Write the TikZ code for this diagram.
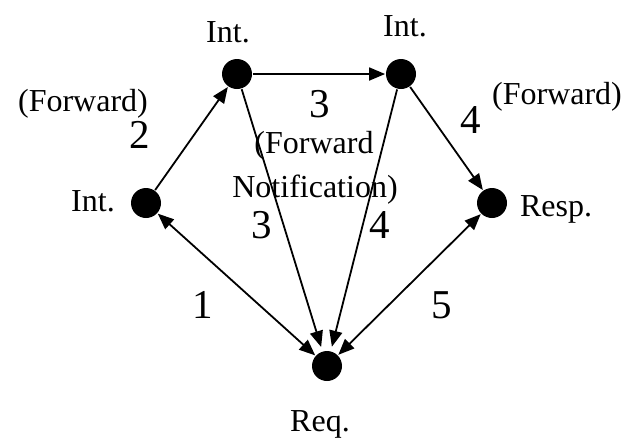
\documentclass[tikz,border=0pt]{standalone}
\usepackage{fontspec}
\setmainfont{Liberation Serif}
\usetikzlibrary{arrows.meta}

\begin{document}
\begin{tikzpicture}[x=0.5pt, y=-0.5pt, line width=0.9pt,
                    >={Triangle[length=8pt, width=6.5pt]},
                    dot/.style={circle, fill, inner sep=0pt, minimum size=15pt},
                    txt/.style={anchor=base, inner sep=0pt, font=\fontsize{16}{18}\selectfont},
                    num/.style={anchor=base, inner sep=0pt, font=\fontsize{20.5}{22}\selectfont}]
  \useasboundingbox (0,0) rectangle (638,441);

  % Peers (y grows downwards)
  \node[dot] (a) at (146, 203) {};
  \node[dot] (b) at (237, 74) {};
  \node[dot] (c) at (401, 74) {};
  \node[dot] (r) at (492, 203) {};
  \node[dot] (q) at (327, 366) {};

  % Messages
  \draw[<->] (a) -- (q);
  \draw[->] (a) -- (b);
  \draw[->] (b) -- (c);
  \draw[->] (c) -- (r);
  \draw[->, shorten >=2pt] (b) -- (q);
  \draw[->, shorten >=2pt] (c) -- (q);
  \draw[<->] (r) -- (q);

  % Peer labels
  \node[txt] (la) at (93, 211)  {Int.};
  \node[txt] (lb) at (228, 42)  {Int.};
  \node[txt] (lc) at (405, 36)  {Int.};
  \node[txt] (lr) at (556, 216) {Resp.};
  \node[txt] (lq) at (320, 431) {Req.};

  % Step numbers
  \node[num] (n1)  at (203, 318) {1};
  \node[num] (n2)  at (140, 148) {2};
  \node[num] (n3a) at (320, 117) {3};
  \node[num] (n3b) at (262, 238) {3};
  \node[num] (n4a) at (471, 133) {4};
  \node[num] (n4b) at (380, 238) {4};
  \node[num] (n5)  at (442, 318) {5};

  % Message kinds
  \node[txt] (fw1) at (83, 111)  {(Forward)};
  \node[txt] (fw2) at (557, 104) {(Forward)};
  \node[txt] (fn1) at (314, 153) {(Forward};
  \node[txt] (fn2) at (315, 197) {Notification)};
\end{tikzpicture}
\end{document}
